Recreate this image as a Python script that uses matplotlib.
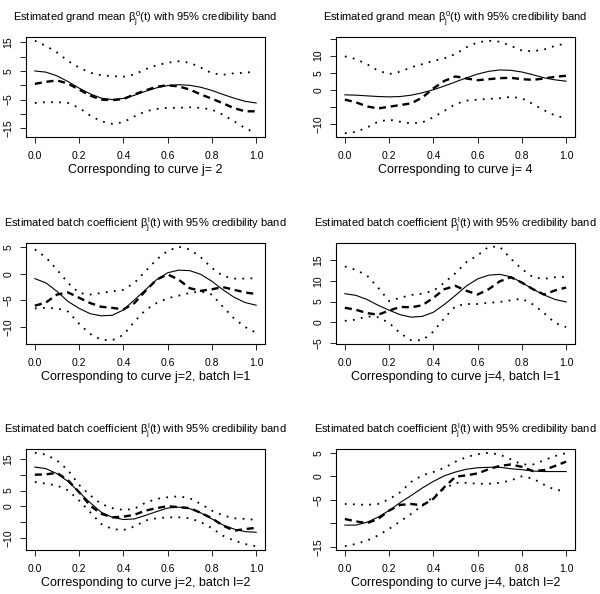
import matplotlib.pyplot as plt
import numpy as np

plt.rcParams['font.family'] = ['Liberation Sans', 'DejaVu Sans']
plt.rcParams['mathtext.fontset'] = 'custom'
plt.rcParams['mathtext.rm'] = 'Liberation Sans'
plt.rcParams['mathtext.it'] = 'Liberation Sans'
plt.rcParams['axes.linewidth'] = 0.8

# grid of t values (step 0.05)
t = np.round(np.arange(21) * 0.05, 2)

# curve j=2, grand mean
truth_j2 = [5.0, 4.6, 3.3, 1.3, -1.0, -3.0, -4.5, -5.0, -4.6, -3.5, -2.1,
            -0.9, -0.1, 0.2, 0.0, -0.7, -1.8, -3.2, -4.5, -5.6, -6.2]
est_j2 = [0.5, 1.2, 1.7, 0.6, -1.5, -3.6, -5.0, -5.2, -4.8, -3.2, -1.8,
          -0.5, 0.0, -0.4, -1.5, -3.2, -4.7, -6.3, -8.0, -9.1, -9.1]
lo_j2 = [-6.2, -5.9, -5.9, -6.2, -7.9, -10.6, -12.6, -13.5, -12.9, -10.9, -9.1,
         -8.3, -7.9, -7.9, -7.7, -7.9, -8.5, -10.3, -12.6, -15.0, -16.8]
hi_j2 = [15.6, 13.8, 11.5, 8.5, 6.2, 4.4, 3.5, 3.2, 3.0, 3.8, 5.6,
         7.0, 7.9, 8.4, 7.9, 6.2, 4.2, 3.7, 4.2, 4.4, 4.8]

# curve j=4, grand mean
truth_j4 = [-1.5, -1.6, -1.8, -2.0, -2.1, -2.0, -1.6, -0.9, 0.0, 1.1, 2.3,
            3.5, 4.6, 5.4, 5.8, 5.7, 5.2, 4.4, 3.5, 2.9, 2.5]
est_j4 = [-2.9, -3.7, -4.9, -5.5, -5.0, -4.5, -4.0, -2.3, 0.4, 2.6, 3.9,
          3.3, 2.8, 3.1, 3.4, 3.5, 3.1, 2.9, 3.3, 3.8, 4.1]
lo_j4 = [-12.8, -12.4, -11.1, -9.4, -8.8, -9.4, -9.9, -9.6, -8.1, -6.2, -4.2,
         -3.2, -2.9, -2.7, -2.5, -2.1, -2.5, -4.2, -6.0, -7.6, -8.4]
hi_j4 = [9.8, 9.0, 7.5, 5.6, 4.6, 5.3, 6.6, 7.5, 8.5, 9.2, 10.5,
         12.5, 13.9, 14.4, 14.1, 12.9, 11.5, 11.3, 11.8, 12.9, 13.6]

# curve j=2, batch l=1
truth_j2_b1 = [-0.9, -1.7, -3.3, -5.2, -6.5, -7.5, -7.9, -7.8, -6.8, -4.9, -3.0,
               -1.1, 0.2, 0.7, 0.6, -0.1, -1.4, -3.0, -4.4, -5.4, -5.9]
est_j2_b1 = [-6.0, -5.4, -3.9, -3.5, -4.5, -5.5, -6.2, -6.4, -6.7, -5.5, -3.2,
             -1.1, -0.1, -1.1, -2.7, -3.2, -2.9, -2.5, -3.0, -3.5, -3.8]
lo_j2_b1 = [-6.5, -6.4, -6.5, -7.1, -9.4, -11.3, -12.4, -12.5, -11.5, -9.0, -6.8,
            -5.5, -4.6, -4.1, -3.6, -3.3, -3.9, -6.2, -8.4, -10.0, -11.1]
hi_j2_b1 = [4.6, 3.1, 0.8, -1.7, -3.6, -3.9, -3.6, -3.3, -3.0, -1.7, 0.5,
            2.7, 4.3, 5.1, 4.6, 3.1, 1.1, -0.4, -0.9, -0.9, -0.8]

# curve j=4, batch l=1
truth_j4_b1 = [6.9, 6.5, 5.5, 4.1, 2.9, 1.8, 1.2, 1.4, 2.4, 4.3, 6.5,
               8.8, 10.5, 11.4, 11.6, 11.0, 9.6, 8.0, 6.6, 5.5, 4.9]
est_j4_b1 = [3.5, 3.0, 2.2, 1.8, 2.8, 3.7, 3.6, 4.1, 5.9, 8.0, 8.8,
             7.6, 6.7, 8.0, 9.9, 10.9, 9.6, 8.0, 6.7, 7.7, 8.4]
lo_j4_b1 = [0.3, 0.6, 1.4, 1.2, -0.2, -2.7, -4.4, -4.4, -2.3, 1.0, 3.9,
            4.4, 4.4, 4.7, 4.9, 5.3, 5.7, 4.3, 2.2, -0.2, -1.2]
hi_j4_b1 = [13.5, 12.7, 11.3, 8.4, 5.1, 5.9, 6.6, 6.9, 7.6, 9.6, 11.9,
            14.6, 16.2, 18.3, 18.3, 15.4, 12.9, 10.9, 10.5, 10.9, 11.0]

# curve j=2, batch l=2
truth_j2_b2 = [12.4, 11.9, 10.3, 7.9, 4.5, 1.2, -1.8, -3.4, -4.1, -3.9, -2.8,
               -1.6, -0.5, -0.2, -0.7, -2.0, -3.9, -5.8, -7.1, -7.9, -8.1]
est_j2_b2 = [10.0, 10.1, 10.6, 8.2, 4.5, 0.3, -2.3, -3.4, -3.2, -2.6, -1.3,
             -0.5, 0.1, -0.2, -0.5, -2.0, -3.7, -6.0, -7.6, -7.1, -6.7]
lo_j2_b2 = [7.7, 7.2, 6.6, 5.1, 1.9, -1.8, -5.5, -7.1, -7.4, -6.3, -4.4,
            -3.7, -3.4, -3.4, -3.7, -4.9, -6.8, -9.2, -10.7, -11.8, -12.5]
hi_j2_b2 = [16.9, 16.3, 14.5, 11.4, 6.8, 3.5, 0.8, -0.5, -1.1, -0.7, 1.2,
            2.4, 2.9, 3.2, 2.6, 0.8, -1.3, -2.8, -3.7, -3.9, -4.2]

# curve j=4, batch l=2
truth_j4_b2 = [-10.4, -10.4, -9.8, -8.7, -7.3, -5.6, -4.1, -2.5, -1.1, 0.1, 0.9,
               1.5, 1.8, 1.9, 1.9, 1.6, 1.4, 1.1, 1.0, 1.0, 1.0]
est_j4_b2 = [-9.1, -9.6, -10.0, -9.1, -7.3, -6.1, -5.9, -6.2, -4.8, -2.3, -0.1,
             0.2, 0.6, 1.5, 2.2, 2.5, 2.0, 1.1, 1.3, 2.2, 3.1]
lo_j4_b2 = [-14.9, -14.4, -13.7, -12.6, -11.2, -9.6, -8.0, -6.2, -4.4, -2.6, -1.4,
            -1.4, -1.6, -1.6, -1.4, -0.9, 0.0, -0.5, -1.8, -2.9, -3.1]
hi_j4_b2 = [-5.9, -6.0, -6.1, -5.9, -4.9, -3.4, -1.2, 0.2, 0.9, 1.8, 3.1,
            4.1, 4.7, 5.0, 4.6, 3.6, 2.5, 2.5, 3.4, 4.3, 4.9]

title_mean = r'Estimated grand mean $\beta_j^0(t)$ with 95% credibility band'
title_batch = r'Estimated batch coefficient $\beta_j^l(t)$ with 95% credibility band'

xlabels = ['Corresponding to curve j= 2', 'Corresponding to curve j= 4',
           'Corresponding to curve j=2, batch l=1', 'Corresponding to curve j=4, batch l=1',
           'Corresponding to curve j=2, batch l=2', 'Corresponding to curve j=4, batch l=2']

x_ticks = [0.0, 0.2, 0.4, 0.6, 0.8, 1.0]
x_ticklabels = ['0.0', '0.2', '0.4', '0.6', '0.8', '1.0']

y_ticks = [[-15, -10, -5, 0, 5, 10, 15],
           [-10, -5, 0, 5, 10, 15],
           [-10, -5, 0, 5],
           [-5, 0, 5, 10, 15],
           [-10, -5, 0, 5, 10, 15],
           [-15, -10, -5, 0, 5]]
y_ticklabels = [['\u221215', '', '\u22125', '', '5', '', '15'],
                ['\u221210', '', '0', '5', '10', ''],
                ['\u221210', '\u22125', '0', '5'],
                ['\u22125', '0', '5', '10', '15'],
                ['\u221210', '', '0', '5', '', '15'],
                ['\u221215', '', '\u22125', '0', '5']]

series = [(truth_j2, est_j2, lo_j2, hi_j2),
          (truth_j4, est_j4, lo_j4, hi_j4),
          (truth_j2_b1, est_j2_b1, lo_j2_b1, hi_j2_b1),
          (truth_j4_b1, est_j4_b1, lo_j4_b1, hi_j4_b1),
          (truth_j2_b2, est_j2_b2, lo_j2_b2, hi_j2_b2),
          (truth_j4_b2, est_j4_b2, lo_j4_b2, hi_j4_b2)]
titles = [title_mean, title_mean, title_batch, title_batch, title_batch, title_batch]

W, H = 600, 594
fig = plt.figure(figsize=(6, 5.94), dpi=100)

# box positions in pixels: (left, right) and (top, bottom)
col_x = [(26, 265), (336, 575)]
row_y = [(37, 137), (243, 344), (449, 550)]

for i in range(6):
    x0, x1 = col_x[i % 2]
    y0, y1 = row_y[i // 2]
    ax = fig.add_axes([x0 / W, 1 - y1 / H, (x1 - x0) / W, (y1 - y0) / H])
    truth, est, lo, hi = series[i]
    ax.plot(t, truth, color='black', lw=0.8)
    ax.plot(t, est, color='black', lw=1.7, ls=(0, (3, 2)))
    ax.plot(t, lo, color='black', lw=1.3, ls=(0, (1, 3.5)))
    ax.plot(t, hi, color='black', lw=1.3, ls=(0, (1, 3.5)))
    ax.margins(x=0.04, y=0.04)
    ax.set_xticks(x_ticks)
    ax.set_xticklabels(x_ticklabels)
    ax.set_yticks(y_ticks[i])
    ax.set_yticklabels(y_ticklabels[i], rotation=90, va='center')
    ax.tick_params(direction='out', length=4, width=0.6, labelsize=7.5)
    ax.tick_params(axis='x', pad=6)
    ax.tick_params(axis='y', pad=5)
    ax.set_title(titles[i], fontsize=8, pad=11)
    ax.set_xlabel(xlabels[i], fontsize=9, labelpad=2)

fig.savefig('out.png', dpi=100)
